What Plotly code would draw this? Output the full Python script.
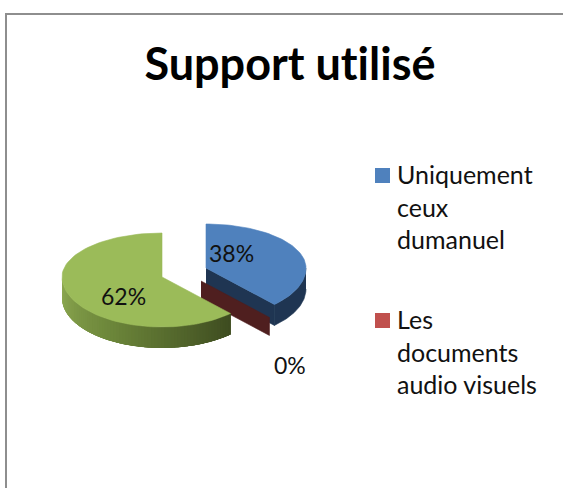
import numpy as np
import plotly.graph_objects as go

TITLE = "Support utilisé"
categories = ["Uniquement ceux dumanuel", "Les documents audio visuels", ""]
shares = [38, 0, 62]
legend_lines = [["Uniquement", "ceux", "dumanuel"], ["Les", "documents", "audio visuels"]]

FONT = "Lato"
TOP = {"blue": "#4F81BD", "red": "#C0504D", "green": "#9BBB59"}
RX, RY_BACK, RY_FRONT, DEPTH = 100, 44, 50, 21
APEX = [(206, 268), (201, 281), (162, 277)]

fig = go.Figure()


def pt(c, deg, dy=0):
    a = np.radians(deg)
    k = np.cos(a)
    return c[0] + RX * np.sin(a), c[1] - k * np.where(k > 0, RY_BACK, RY_FRONT) + dy


def poly(xs, ys, color, stroke=0.6):
    fig.add_trace(go.Scatter(x=[float(v) for v in xs], y=[float(v) for v in ys], mode="lines", fill="toself", fillcolor=color,
                             line=dict(color=color, width=stroke), hoverinfo="skip", showlegend=False))


def arc(c, a0, a1, dy=0, n=80):
    d = np.linspace(a0, a1, n)
    return pt(c, d, dy)


def sector(c, a0, a1, color):
    x, y = arc(c, a0, a1)
    poly([c[0], *x, c[0]], [c[1], *y, c[1]], color)


def lerp(c0, c1, t):
    r = [int(round(p + (q - p) * t)) for p, q in zip(c0, c1)]
    return "rgb(%d,%d,%d)" % tuple(r)


edges = np.cumsum([0] + shares) * 3.6

# blue slice: side wall, cut face, then top
c = APEX[0]
x, y = arc(c, 90, edges[1])
x2, y2 = arc(c, edges[1], 90, DEPTH)
poly([*x, *x2], [*y, *y2], "#1F3552")
ex, ey = pt(c, edges[1])
poly([c[0], ex, ex, c[0]], [c[1], ey, ey + DEPTH, c[1] + DEPTH], "#1F3552")
sector(c, edges[0], edges[1], TOP["blue"])

# zero-share slice: only its cut wall is visible
c = APEX[1]
ex, ey = pt(c, edges[2])
poly([c[0], ex, ex, c[0]], [c[1], ey, ey + DEPTH - 3, c[1] + DEPTH - 3], "#4F1F1F")

# green slice: shaded side wall (each strip runs on under the next one), then top
c = APEX[2]
steps = np.linspace(270, edges[2], 71)
for i in range(len(steps) - 1):
    t = 1 - i / (len(steps) - 2)
    col = lerp((62, 76, 32), (108, 134, 58), t / 0.55) if t < 0.55 else lerp((108, 134, 58), (142, 170, 82), (t - 0.55) / 0.45)
    far = max(steps[i + 1] - 8, edges[2])
    x, y = arc(c, steps[i], far, n=8)
    x2, y2 = arc(c, far, steps[i], DEPTH, n=8)
    poly([*x, *x2], [*y, *y2], col, stroke=0)
sector(c, edges[2], edges[3], TOP["green"])

# legend swatches
fig.add_trace(go.Scatter(x=[382.5, 382.5], y=[175.5, 320.5], mode="markers", text=categories[:2],
                         marker=dict(symbol="square", size=15, color=[TOP["blue"], TOP["red"]], line_width=0),
                         hoverinfo="text", showlegend=False))

ann = []
for v, (x, y) in zip(shares, [(231, 253), (290, 365), (123, 296)]):
    ann.append(dict(x=x, y=y, text=f"{v}%", showarrow=False, font=dict(family=FONT, size=23, color="#111111"),
                    xanchor="center", yanchor="middle"))
for lines, y0 in zip(legend_lines, [174, 319]):
    for i, t in enumerate(lines):
        ann.append(dict(x=395, y=y0 + i * 32.5, text=t, showarrow=False, font=dict(family=FONT, size=25, color="#111111"),
                        xanchor="left", yanchor="middle"))
ann.append(dict(x=290, y=63, text=f"<b>{TITLE}</b>", showarrow=False, font=dict(family=FONT, size=45, color="#000000"),
                xanchor="center", yanchor="middle"))

fig.update_layout(
    width=563, height=488, autosize=False, margin=dict(l=0, r=0, t=0, b=0),
    paper_bgcolor="white", plot_bgcolor="white", annotations=ann,
    xaxis=dict(range=[0, 563], visible=False, fixedrange=True),
    yaxis=dict(range=[488, 0], visible=False, fixedrange=True),
    shapes=[
        dict(type="line", xref="x", yref="y", x0=6, x1=6, y0=13, y1=488, line=dict(color="#8E8E8E", width=2)),
        dict(type="line", xref="x", yref="y", x0=5, x1=563, y0=14, y1=14, line=dict(color="#8E8E8E", width=2)),
    ],
)
fig.write_html("out.html", config={"displayModeBar": False},
               post_script="document.body.style.margin='0';document.documentElement.style.overflow='hidden';"
                           "var s=document.createElement('style');s.textContent='text{font-variant-ligatures:none !important}';document.head.appendChild(s);")
